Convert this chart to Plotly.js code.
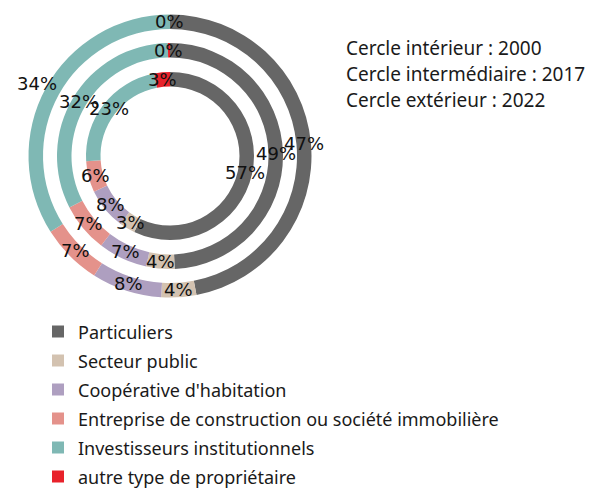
<!DOCTYPE html>
<html><head><meta charset="utf-8">
<script src="https://cdn.plot.ly/plotly-3.0.1.min.js"></script>
<style>html,body{margin:0;padding:0;background:#fff}</style>
</head><body><div id="chart" style="width:599px;height:488px"></div>
<script>
const categories = ["Particuliers","Secteur public","Coopérative d'habitation","Entreprise de construction ou société immobilière","Investisseurs institutionnels","autre type de propriétaire"];
const values2000 = [57, 3, 8, 6, 23, 3];
const values2017 = [49, 4, 7, 7, 32, 0.3];
const values2022 = [47, 4, 8, 7, 34, 0];
const ringNames = ["Cercle intérieur", "Cercle intermédiaire", "Cercle extérieur"];
const ringYears = ["2000", "2017", "2022"];
const colors = ["#666666","#d3c2b0","#ae9fc0","#e4928b","#7fb8b4","#e8222b"];

const W = 599, H = 488, CX = 170, CY = 156;
const rings = [
  {values: values2000, rOut: 84, rIn: 69.5},
  {values: values2017, rOut: 113, rIn: 98.5},
  {values: values2022, rOut: 141.5, rIn: 127}
];
const labelShift = {"2:4": 17};
const legendLabels = categories.map(c => '<span style="font-size:18px">' + c + '</span>');

const traces = [];
const annotations = [];
rings.forEach((ring, ri) => {
  traces.push({
    type: 'pie',
    labels: legendLabels,
    values: ring.values,
    sort: false,
    direction: 'clockwise',
    rotation: 0,
    hole: ring.rIn / ring.rOut,
    textinfo: 'none',
    hoverinfo: 'label+percent',
    marker: {colors: colors, line: {width: 0}},
    domain: {
      x: [(CX - ring.rOut) / W, (CX + ring.rOut) / W],
      y: [1 - (CY + ring.rOut) / H, 1 - (CY - ring.rOut) / H]
    }
  });
  const total = ring.values.reduce((a, b) => a + b, 0);
  let cum = 0;
  ring.values.forEach((v, i) => {
    const mid = (cum + v / 2) / total;
    cum += v;
    const th = mid * 2 * Math.PI;
    const r = (ring.rOut + ring.rIn) / 2 + (labelShift[ri + ':' + i] || 0);
    const px = CX + r * Math.sin(th);
    const py = CY - r * Math.cos(th);
    annotations.push({
      xref: 'paper', yref: 'paper', x: px / W, y: 1 - py / H,
      xanchor: 'center', yanchor: 'middle', showarrow: false,
      text: Math.round(v / total * 100) + '%',
      font: {family: 'DejaVu Sans', size: 18, color: '#111111'}
    });
  });
});
ringNames.forEach((n, i) => {
  annotations.push({
    xref: 'paper', yref: 'paper', x: 344 / W, y: 1 - (48.5 + 25.5 * i) / H,
    xanchor: 'left', yanchor: 'middle', showarrow: false,
    text: n + ' : ' + ringYears[i],
    font: {family: 'Noto Sans', size: 19, color: '#1a1a1a'}
  });
});

const layout = {
  width: W, height: H, autosize: false,
  margin: {l: 0, r: 0, t: 0, b: 0, autoexpand: false},
  paper_bgcolor: '#ffffff',
  showlegend: true,
  legend: {
    x: 38 / W, y: 1 - 312 / H, xanchor: 'left', yanchor: 'top',
    font: {family: 'Noto Sans', size: 20, color: '#1a1a1a'},
    bgcolor: 'rgba(0,0,0,0)', traceorder: 'normal'
  },
  annotations: annotations
};
Plotly.newPlot('chart', traces, layout, {displayModeBar: false, staticPlot: true});
</script></body></html>
